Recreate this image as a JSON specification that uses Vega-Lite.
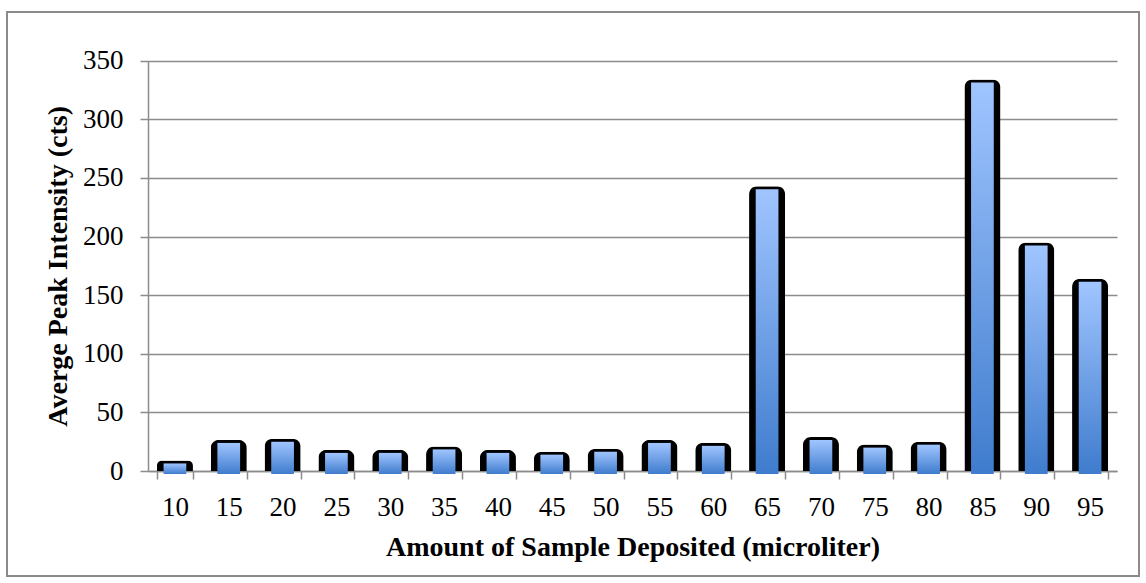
{
  "$schema": "https://vega.github.io/schema/vega-lite/v6.json",
  "width": 1132,
  "height": 564,
  "autosize": {"type": "none"},
  "padding": {"left": 7, "top": 12, "right": 7, "bottom": 7},
  "background": "white",
  "config": {
    "view": {"stroke": "#8a8a8a", "strokeWidth": 2},
    "axis": {
      "domainColor": "#8c8c8c",
      "domainWidth": 1.5,
      "tickColor": "#8c8c8c",
      "tickWidth": 1.5,
      "tickSize": 8,
      "gridColor": "#8c8c8c",
      "gridWidth": 1.5,
      "gridOpacity": 1,
      "labelFont": "Liberation Serif",
      "labelFontSize": 27,
      "labelColor": "black",
      "titleFont": "Liberation Serif",
      "titleFontSize": 28,
      "titleFontWeight": "bold",
      "titleColor": "black"
    }
  },
  "data": {
    "values": [
      {"volume": 10, "intensity": 9},
      {"volume": 15, "intensity": 26.5},
      {"volume": 20, "intensity": 27.5},
      {"volume": 25, "intensity": 18},
      {"volume": 30, "intensity": 18},
      {"volume": 35, "intensity": 21},
      {"volume": 40, "intensity": 18},
      {"volume": 45, "intensity": 16.5},
      {"volume": 50, "intensity": 19},
      {"volume": 55, "intensity": 26.5},
      {"volume": 60, "intensity": 24},
      {"volume": 65, "intensity": 243},
      {"volume": 70, "intensity": 29},
      {"volume": 75, "intensity": 22.5},
      {"volume": 80, "intensity": 25},
      {"volume": 85, "intensity": 334},
      {"volume": 90, "intensity": 195},
      {"volume": 95, "intensity": 164}
    ]
  },
  "encoding": {
    "x": {
      "field": "volume",
      "type": "ordinal",
      "scale": {"range": [141, 1110], "paddingInner": 0.33, "paddingOuter": 0.165},
      "axis": {
        "title": "Amount of Sample Deposited (microliter)",
        "labelAngle": 0,
        "tickBand": "extent",
        "offset": -105,
        "labelPadding": 15,
        "titlePadding": 13,
        "grid": false
      }
    },
    "y": {
      "field": "intensity",
      "type": "quantitative",
      "scale": {"domain": [0, 350], "range": [459, 48.7], "nice": false, "zero": true},
      "axis": {
        "title": "Averge Peak Intensity (cts)",
        "values": [0, 50, 100, 150, 200, 250, 300, 350],
        "offset": -141,
        "labelPadding": 17,
        "titlePadding": 10,
        "grid": true
      }
    }
  },
  "layer": [
    {
      "mark": {
        "type": "bar",
        "color": "black",
        "cornerRadiusTopLeft": 8,
        "cornerRadiusTopRight": 8
      }
    },
    {
      "mark": {
        "type": "bar",
        "width": {"band": 0.63},
        "yOffset": 3,
        "y2Offset": -2,
        "fill": {
          "gradient": "linear",
          "x1": 0, "y1": 0, "x2": 0, "y2": 1,
          "stops": [
            {"offset": 0, "color": "#a0c5ff"},
            {"offset": 1, "color": "#3f7ccd"}
          ]
        }
      }
    }
  ]
}
